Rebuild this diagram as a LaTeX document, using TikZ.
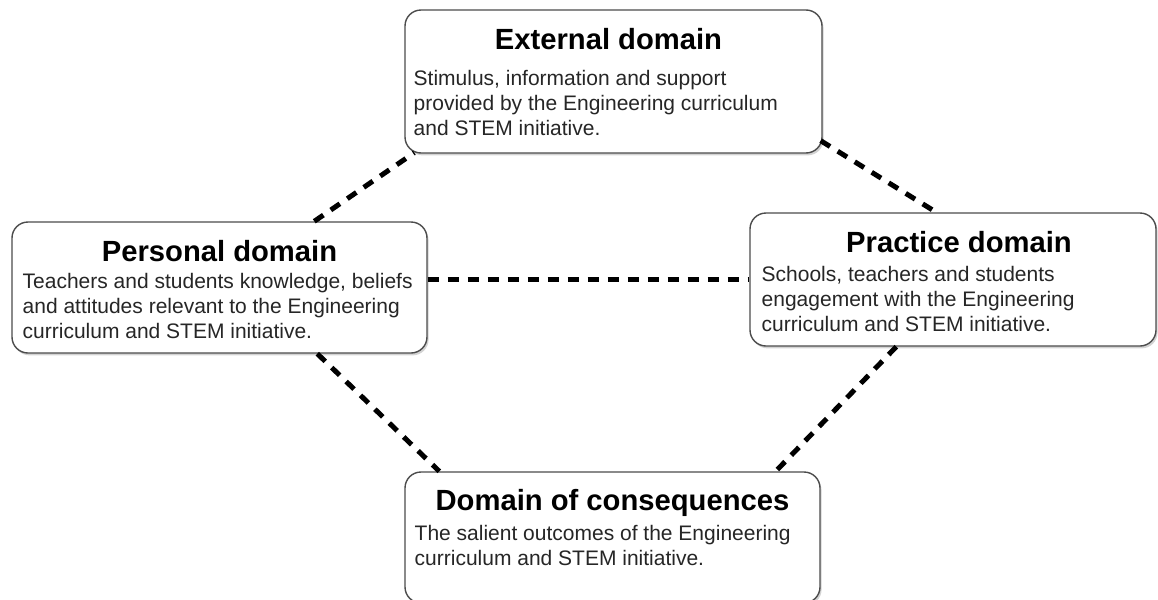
\documentclass[tikz,border=0pt]{standalone}
\usepackage{fontspec}
\setmainfont{Liberation Sans}
\usepackage{tikz}
\usetikzlibrary{calc}
\usetikzlibrary{shadows}
\usepackage{xcolor}
\colorlet{myframe}{black!70}
\colorlet{mytext}{black!85}
\tikzstyle{dombox}=[draw=myframe,line width=0.7pt,fill=white,rounded corners=8pt,inner sep=0,drop shadow={shadow xshift=0.8pt,shadow yshift=-1.2pt,opacity=0.35}]
\tikzstyle{domtitle}=[font=\fontsize{14.6}{16}\selectfont\bfseries,inner sep=0,anchor=base]
\tikzstyle{domtext}=[font=\fontsize{10.5}{12.5}\selectfont,text=mytext,align=left,inner sep=0,anchor=north west]
\tikzstyle{domlink}=[line width=2.5pt,dash pattern=on 5.5pt off 4.5pt]

\begin{document}
\begin{tikzpicture}[x=0.5pt,y=-0.5pt]
\useasboundingbox (0,0) rectangle (1158,600);

\node[dombox,minimum width=208.5pt,minimum height=71.5pt] (ext) at (613.5,81.5) {};
\node[domtitle] (exttitle) at ($(ext.north)+(-5,40)$) {External domain};
\node[domtext] (exttext) at ($(ext.north west)+(9,61)$) {Stimulus, information and support\\provided by the Engineering curriculum\\and STEM initiative.};

\node[dombox,minimum width=207.5pt,minimum height=65.5pt] (pers) at (219.5,287.5) {};
\node[domtitle] (perstitle) at ($(pers.north)+(0,40)$) {Personal domain};
\node[domtext] (perstext) at ($(pers.north west)+(11,52)$) {Teachers and students knowledge, beliefs\\and attitudes relevant to the Engineering\\curriculum and STEM initiative.};

\node[dombox,minimum width=203pt,minimum height=66.5pt] (prac) at (953,279.5) {};
\node[domtitle] (practitle) at ($(prac.north)+(6,40)$) {Practice domain};
\node[domtext] (practext) at ($(prac.north west)+(12,54)$) {Schools, teachers and students\\engagement with the Engineering\\curriculum and STEM initiative.};

\node[dombox,minimum width=207.5pt,minimum height=65.5pt] (cons) at (612.5,537.5) {};
\node[domtitle] (constitle) at ($(cons.north)+(0,39)$) {Domain of consequences};
\node[domtext] (constext) at ($(cons.north west)+(10,54)$) {The salient outcomes of the Engineering\\curriculum and STEM initiative.};

\draw[domlink] ($(pers.north west)+(303,0)$) -- ($(ext.south west)+(10,-1)$);
\draw[domlink] ($(ext.south east)+(-2,-13)$) -- ($(prac.north west)+(187,0)$);
\draw[domlink] (pers.east |- prac.west) -- (prac.west);
\draw[domlink] ($(pers.south west)+(306,0)$) -- ($(cons.north west)+(35,0)$);
\draw[domlink] ($(prac.south west)+(147,0)$) -- ($(cons.north east)+(-45,0)$);
\end{tikzpicture}
\end{document}
